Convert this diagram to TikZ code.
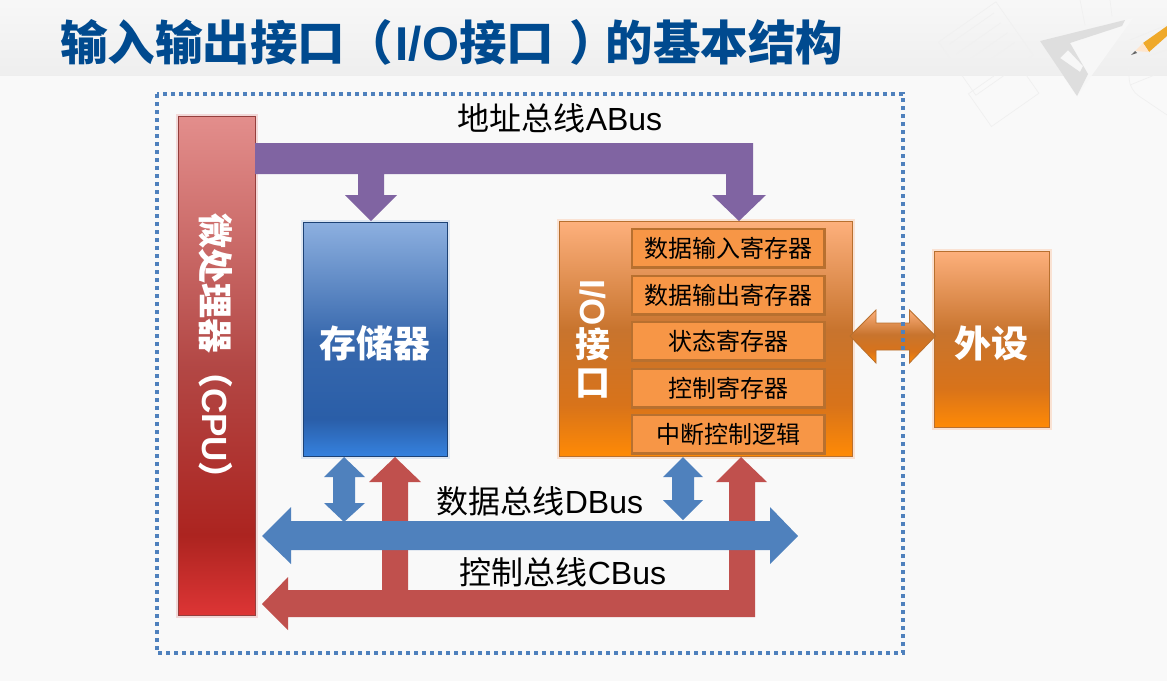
\documentclass[tikz,border=0pt]{standalone}
\usepackage{fontspec}
\setmainfont{Liberation Sans}
\newfontfamily\cjk{Noto Sans CJK SC}
\definecolor{bgc}{HTML}{F9F9F9}
\definecolor{titlec}{HTML}{004A8F}
\definecolor{bpurple}{HTML}{8064A2}
\definecolor{bblue}{HTML}{4F81BD}
\definecolor{bred}{HTML}{C0504D}
\definecolor{regfill}{HTML}{F79646}
\definecolor{regline}{HTML}{B8702F}
\definecolor{cpuglow}{HTML}{E38E8C}
\definecolor{cpuline}{HTML}{943F3D}
\definecolor{memglow}{HTML}{8DB0E0}
\definecolor{memline}{HTML}{1D4275}
\definecolor{ioglow}{HTML}{FDB07C}
\definecolor{pencil}{HTML}{EFA92A}
\pgfdeclareverticalshading{cpushade}{100bp}{rgb(0bp)=(.867,.208,.208);rgb(25bp)=(.867,.208,.208);rgb(33bp)=(.675,.141,.125);rgb(50bp)=(.70,.28,.27);rgb(75bp)=(.89,.557,.549);rgb(100bp)=(.89,.557,.549)}
\pgfdeclareverticalshading{memshade}{100bp}{rgb(0bp)=(.208,.506,.871);rgb(25bp)=(.208,.506,.871);rgb(33bp)=(.165,.369,.659);rgb(50bp)=(.216,.408,.678);rgb(75bp)=(.553,.69,.878);rgb(100bp)=(.553,.69,.878)}
\pgfdeclareverticalshading{ioshade}{100bp}{rgb(0bp)=(1,.541,.02);rgb(25bp)=(1,.541,.02);rgb(36bp)=(.847,.451,.102);rgb(52bp)=(.784,.455,.18);rgb(75bp)=(.992,.69,.486);rgb(100bp)=(.992,.69,.486)}
\tikzset{
  box/.style={anchor=north west,inner sep=0pt,outer sep=0pt,text=white},
  cpubox/.style={box,shading=cpushade,draw=cpuline,line width=.8pt,preaction={draw=cpuglow,line width=5pt,opacity=.3}},
  membox/.style={box,shading=memshade,draw=memline,line width=.8pt,preaction={draw=memglow,line width=5pt,opacity=.25}},
  iobox/.style={box,shading=ioshade,draw=regline,line width=.8pt,preaction={draw=ioglow,line width=5pt,opacity=.3}},
  regbox/.style={anchor=north west,inner sep=0pt,outer sep=0pt,fill=regfill,draw=regline,line width=2.4pt,minimum width=192.5pt,minimum height=38.5pt,font=\cjk\fontsize{24}{28}\selectfont,text=black},
  buslabel/.style={inner sep=0pt,text=black,font=\fontsize{32}{38}\selectfont},
  bigwhite/.style={inner sep=0pt,text=white,font=\cjk\bfseries\fontsize{37}{42}\selectfont},
  faint/.style={draw=black!6,line width=.7pt}
}
\begin{document}
\begin{tikzpicture}[x=1pt,y=-1pt]
\useasboundingbox (0,0) rectangle (1167,681);
\fill[bgc] (0,0) rectangle (1167,681);
\shade[top color=black!3,bottom color=black!6.5] (0,0) rectangle (1167,75);
% decoration at the top right
\begin{scope}
\draw[faint,rotate around={35:(1000,60)}] (960,10) rectangle (1030,75);
\draw[faint,rotate around={35:(1000,60)}] (968,18) -- (1022,18) (968,30) -- (1022,30) (968,42) -- (1022,42) (968,54) -- (1022,54);
\draw[faint,rotate around={35:(1000,90)}] (972,75) rectangle (1030,115);
\draw[faint] (1080,0) -- (1085,25) (1110,0) -- (1112,16);
\draw[faint,rounded corners=10pt] (1130,40) -- (1167,25) (1128,62) -- (1167,50) (1130,85) -- (1167,70) (1128,62) -- (1130,90) -- (1167,115);
\fill[black!3] (1040,41) -- (1133,18) -- (1077,96) -- cycle;
\fill[black!13,even odd rule] (1040,41) -- (1125,20) -- (1122,26) -- (1070,43) -- (1088,74) -- (1077,96) -- cycle (1068,50) -- (1060,58) -- (1080,72) -- (1083,66) -- cycle;
\fill[pencil] (1143,43) -- (1167,26) -- (1167,36) -- (1149,52) -- cycle;
\fill[orange!20!white] (1135,51) -- (1143,43) -- (1149,52) -- cycle;
\fill[black!60] (1131,55) -- (1135,51) -- (1137,53) -- cycle;
\end{scope}
\node[anchor=west,inner sep=0pt,text=titlec,font=\bfseries\fontsize{47.5}{54}\selectfont] (title) at (60,42)
  {{\cjk 输入输出接口（}\hspace{3pt}I/O{\cjk 接口}\hspace{15pt}{\cjk ）}\hspace{-11pt}{\cjk 的基本结构}};
% boxes
\node[cpubox,minimum width=77pt,minimum height=499pt] (cpu) at (178,116) {};
\node[membox,minimum width=144pt,minimum height=234pt] (mem) at (303,222) {};
\node[iobox,minimum width=293pt,minimum height=235pt] (io) at (559.5,221.5) {};
\node[iobox,minimum width=115pt,minimum height=176pt] (dev) at (934,251) {};
\node[rotate=-90,inner sep=0pt,text=white,font=\bfseries\fontsize{35}{40}\selectfont] (cpulabel) at (216,355) {{\cjk 微处理器（}CPU{\cjk ）}};
\node[bigwhite] (memlabel) at (375,343) {存储器};
\node[bigwhite] (devlabel) at (991,343) {外设};
\node[inner sep=0pt,align=center,text=white,font=\bfseries\fontsize{35}{38}\selectfont] (iolabel) at (593,339) {\rotatebox{-90}{I/O}\\[1pt]{\cjk 接}\\{\cjk 口}};
\node[regbox] (r1) at (632,229) {数据输入寄存器};
\node[regbox] (r2) at (632,276) {数据输出寄存器};
\node[regbox] (r3) at (632,322) {状态寄存器};
\node[regbox] (r4) at (632,369) {控制寄存器};
\node[regbox] (r5) at (632,415) {中断控制逻辑};
% address bus
\fill[bpurple] (255,143) -- (753,143) -- (753,195) -- (766,195) -- (739,221) -- (712,195) -- (726,195) -- (726,174)
  -- (384,174) -- (384,195) -- (397,195) -- (371,221) -- (345,195) -- (358,195) -- (358,174) -- (255,174) -- cycle;
% control bus
\fill[bred] (262,604) -- (288,577) -- (288,590) -- (382,590) -- (382,482) -- (369,482) -- (395,457) -- (421,482) -- (408,482) -- (408,590)
  -- (729,590) -- (729,482) -- (716,482) -- (741,457) -- (767,482) -- (755,482) -- (755,617) -- (288,617) -- (288,630) -- cycle;
% data bus
\fill[bblue] (262,536) -- (291,507) -- (291,521) -- (770,521) -- (770,507) -- (798,536) -- (770,564) -- (770,550) -- (291,550) -- (291,564) -- cycle;
\fill[bblue] (344,457) -- (365,477) -- (355,477) -- (355,503) -- (365,503) -- (344,522) -- (324,503) -- (333,503) -- (333,477) -- (324,477) -- cycle;
\fill[bblue] (683,457) -- (703,477) -- (694,477) -- (694,500) -- (703,500) -- (683,520) -- (663,500) -- (672,500) -- (672,477) -- (663,477) -- cycle;
% peripheral link
\draw[regline,line width=.8pt,shading=ioshade] (850,336) -- (876,310) -- (876,323) -- (909.5,323) -- (909.5,310) -- (935.5,336) -- (909.5,363) -- (909.5,350) -- (876,350) -- (876,363) -- cycle;
% dotted frame
\draw[bblue,line width=3.2pt,dash pattern=on 4pt off 4pt] (157,94) rectangle (903,653);
% bus labels
\node[buslabel] (abus) at (560,118) {{\cjk 地址总线}ABus};
\node[buslabel] (dbus) at (540,501) {{\cjk 数据总线}DBus};
\node[buslabel] (cbus) at (563,572) {{\cjk 控制总线}CBus};
\end{tikzpicture}
\end{document}
